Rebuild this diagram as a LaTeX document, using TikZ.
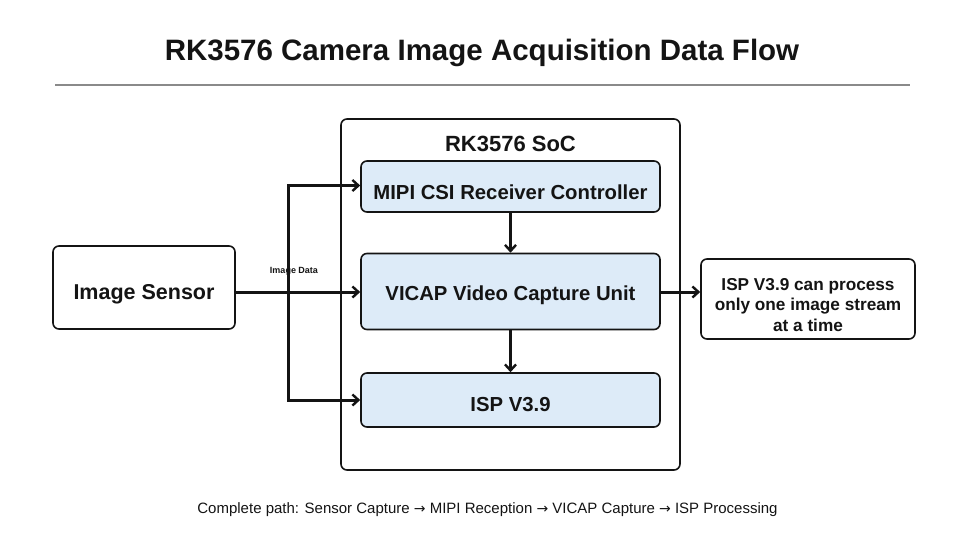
\documentclass[tikz,border=0pt]{standalone}
\usepackage{fontspec}
\setmainfont{Liberation Sans}
\newfontfamily\arrowfont{DejaVu Sans}
\usetikzlibrary{arrows.meta}
\definecolor{boxfill}{HTML}{DDEBF8}
\definecolor{ink}{HTML}{141414}
\definecolor{rulegray}{HTML}{8A8A8A}
\newcommand{\rarr}{{\arrowfont\fontsize{14}{15}\selectfont →}}
\begin{document}
\begin{tikzpicture}[x=1pt,y=-1pt,
  outerbox/.style={draw=ink,line width=1.6pt,rounded corners=6pt,fill=white,inner sep=0pt},
  bluebox/.style={draw=ink,line width=1.6pt,rounded corners=6pt,fill=boxfill,inner sep=0pt,minimum width=299pt},
  flow/.style={draw=ink,line width=3pt,-{Straight Barb[length=6pt,width=11pt,line width=2.4pt]}},
  txt/.style={anchor=base,inner sep=0pt,text=ink}
]
\useasboundingbox (0,0) rectangle (966,543);
% title
\node[txt,font=\fontsize{29.5}{34}\selectfont\bfseries] (title) at (482,60.5) {RK3576 Camera Image Acquisition Data Flow};
\draw[rulegray,line width=1.2pt] (55,85) coordinate (r1) -- (910,85) coordinate (r2);
% SoC
\node[outerbox,minimum width=339pt,minimum height=351pt] (socbox) at (510.5,294.5) {};
\node[txt,font=\fontsize{22}{26}\selectfont\bfseries] (soc) at (510.5,151.5) {RK3576 SoC};
% blue boxes
\node[bluebox,minimum height=51pt] (mipi) at (510.5,186.5) {};
\node[txt,font=\fontsize{20.3}{24}\selectfont\bfseries] (mipit) at (510.5,199.3) {MIPI CSI Receiver Controller};
\node[bluebox,minimum height=76pt] (vicap) at (510.5,291.5) {};
\node[txt,font=\fontsize{20.3}{24}\selectfont\bfseries] (vicapt) at (510.5,300.5) {VICAP Video Capture Unit};
\node[bluebox,minimum height=54pt] (isp) at (510.5,400) {};
\node[txt,font=\fontsize{20.3}{24}\selectfont\bfseries] (ispt) at (510.5,411.5) {ISP V3.9};
% sensor
\node[outerbox,minimum width=182pt,minimum height=83pt] (sensor) at (144,287.5) {};
\node[txt,font=\fontsize{21.5}{25}\selectfont\bfseries] (sensort) at (144,299.3) {Image Sensor};
% note
\node[outerbox,minimum width=214pt,minimum height=80pt] (note) at (808,299) {};
\node[txt,font=\fontsize{17.2}{20.5}\selectfont\bfseries] (note1) at (808,290) {ISP V3.9 can process};
\node[txt,font=\fontsize{17.2}{20.5}\selectfont\bfseries] (note2) at (808,310.5) {only one image stream};
\node[txt,font=\fontsize{17.2}{20.5}\selectfont\bfseries] (note3) at (808,331) {at a time};
% connectors
\coordinate (split) at (288,292);
\coordinate (topc) at (288,185.5);
\coordinate (botc) at (288,400);
\draw[flow] (sensor.east |- split) -- (vicap.west |- split);
\node[txt,font=\fontsize{9}{10}\selectfont\bfseries] (imgdata) at (294,273.3) {Image Data};
\draw[flow] (botc) -- (topc) -- (mipi.west |- topc);
\draw[flow] (topc) -- (botc) -- (isp.west);
\draw[flow] (mipi.south) -- (vicap.north);
\draw[flow] (vicap.south) -- (isp.north);
\draw[flow] (vicap.east |- split) -- (note.west |- split);
% footer
\node[txt,font=\fontsize{15}{18}\selectfont] (footer) at (487.5,513) {Complete path: Sensor Capture \rarr{} MIPI Reception \rarr{} VICAP Capture \rarr{} ISP Processing};
\end{tikzpicture}
\end{document}
